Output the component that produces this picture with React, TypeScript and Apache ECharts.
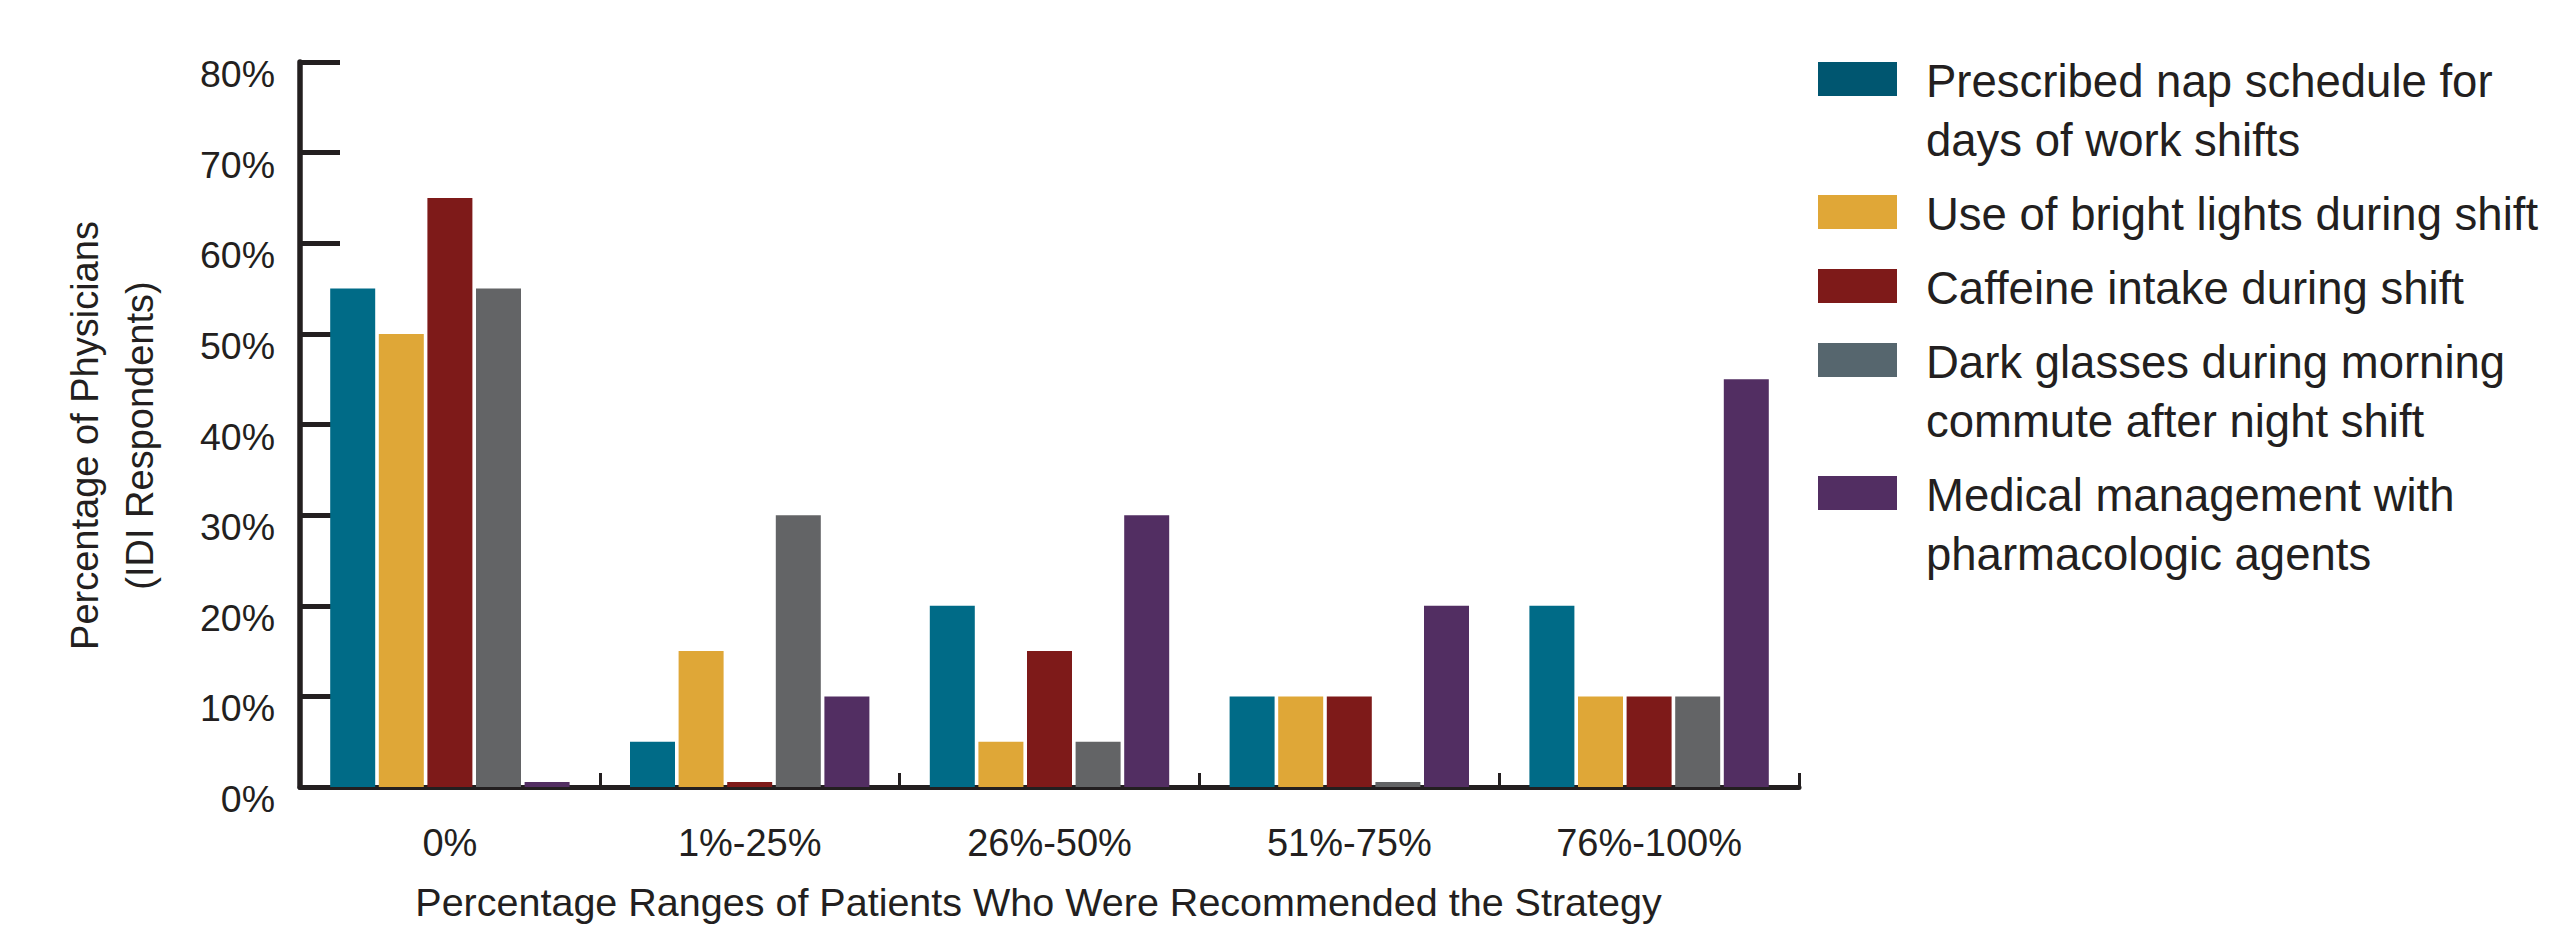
import React, { useEffect, useRef } from "react";
import * as echarts from "echarts";

const categories = ["0%", "1%-25%", "26%-50%", "51%-75%", "76%-100%"];
const legendLabels = [
  "Prescribed nap schedule for\ndays of work shifts",
  "Use of bright lights during shift",
  "Caffeine intake during shift",
  "Dark glasses during morning\ncommute after night shift",
  "Medical management with\npharmacologic agents",
];
const napSchedule = [55, 5, 20, 10, 20];
const brightLights = [50, 15, 5, 10, 10];
const caffeine = [65, 0, 15, 10, 10];
const darkGlasses = [55, 30, 5, 0, 10];
const medical = [0, 10, 30, 20, 45];
const seriesValues = [napSchedule, brightLights, caffeine, darkGlasses, medical];
const barColors = ["#006b87", "#dfa737", "#7e1a19", "#636466", "#522e62"];
const legendColors = ["#005670", "#e0a737", "#7e1a19", "#56666e", "#522e62"];
const yMin = 0;
const yMax = 80;
const yInterval = 10;
const yAxisTitle = "Percentage of Physicians\n(IDI Respondents)";
const xAxisTitle = "Percentage Ranges of Patients Who Were Recommended the Strategy";

const INK = "#231f20";
const FONT = "'Liberation Sans', Arial, sans-serif";

export default function App() {
  const ref = useRef<HTMLDivElement>(null);

  useEffect(() => {
    if (!ref.current) return;
    const chart = echarts.init(ref.current, null, { renderer: "svg" });

    // legend built as graphic (swatch aligned with first text line)
    const L = 59;
    const gap = 15;
    let y = 81 - L / 2;
    const legendEls: any[] = [];
    legendLabels.forEach((lab, i) => {
      const lines = lab.split("\n").length;
      legendEls.push({
        type: "rect",
        shape: { x: 1818, y: y + L / 2 - 2 - 17, width: 79, height: 34 },
        style: { fill: legendColors[i] },
      });
      legendEls.push({
        type: "text",
        x: 1926,
        y: y,
        style: {
          text: lab,
          fontFamily: FONT,
          fontSize: 45.5,
          lineHeight: L,
          fill: INK,
          verticalAlign: "top",
          align: "left",
        },
      });
      y += lines * L + gap;
    });

    chart.setOption({
      animation: false,
      backgroundColor: "#ffffff",
      grid: { left: 300, top: 62, width: 1499, height: 729 },
      xAxis: {
        type: "category",
        data: categories,
        axisLine: { show: true, lineStyle: { color: INK, width: 5 } },
        axisTick: { show: true, inside: true, length: 14, lineStyle: { color: INK, width: 3 } },
        axisLabel: { color: INK, fontFamily: FONT, fontSize: 38, margin: 33, lineHeight: 46 },
        name: xAxisTitle,
        nameLocation: "middle",
        nameGap: 92,
        nameTextStyle: {
          color: INK,
          fontFamily: FONT,
          fontSize: 39.5,
          lineHeight: 46,
          padding: [0, 22, 0, 0],
        },
      },
      yAxis: {
        type: "value",
        min: yMin,
        max: yMax,
        interval: yInterval,
        axisLine: { show: true, lineStyle: { color: INK, width: 5.5 } },
        axisTick: { show: true, inside: true, length: 40, lineStyle: { color: INK, width: 5 } },
        axisLabel: {
          color: INK,
          fontFamily: FONT,
          fontSize: 37.5,
          margin: 25,
          verticalAlign: "top",
          lineHeight: 24,
          formatter: "{value}%",
        },
        splitLine: { show: false },
        name: yAxisTitle,
        nameLocation: "middle",
        nameGap: 133,
        nameTextStyle: {
          color: INK,
          fontFamily: FONT,
          fontSize: 38,
          lineHeight: 55,
          padding: [0, 22, 0, 0],
        },
      },
      series: seriesValues.map((vals, i) => ({
        type: "bar",
        name: legendLabels[i].replace("\n", " "),
        data: vals,
        barWidth: 45,
        barGap: "8%",
        barMinHeight: 5,
        itemStyle: { color: barColors[i] },
      })),
      graphic: legendEls,
    });

    return () => chart.dispose();
  }, []);

  return (
    <div
      ref={ref}
      style={{ position: "absolute", left: 0, top: 0, width: 2553, height: 930, background: "#fff" }}
    />
  );
}
